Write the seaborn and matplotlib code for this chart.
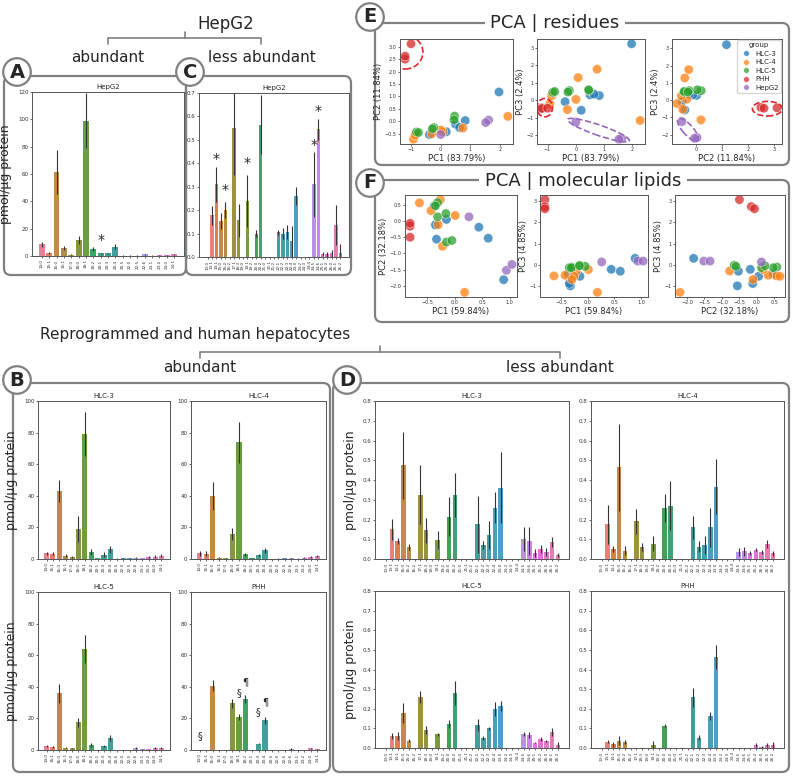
import numpy as np
import pandas as pd
import matplotlib
matplotlib.use("Agg")
import matplotlib.pyplot as plt
import seaborn as sns
from matplotlib.patches import FancyBboxPatch, Ellipse

W, H = 793, 777

# fatty acid residues
abundant = ["14:0", "15:1", "16:0", "16:1", "17:0", "18:0", "18:1", "18:2", "20:1", "20:3",
            "20:4", "20:5", "22:0", "22:5", "22:6", "23:1", "23:2", "24:0", "24:1"]
less_abundant = ["13:0", "13:1", "14:1", "15:0", "15:2", "16:2", "17:1", "18:3", "19:0", "19:1",
                 "19:2", "20:0", "20:2", "21:0", "21:1", "21:2", "22:1", "22:2", "22:3", "22:4",
                 "23:0", "24:2", "24:3", "24:4", "24:5", "24:6", "25:1", "25:2", "26:0", "26:1", "26:2"]

# abundant, pmol/ug protein (mean, error)
hepg2_ab = [8.5, 2.5, 61.5, 5.8, 0.8, 12, 99, 5, 2, 2, 6.8, 0.3, 0.3, 0.3, 1.2, 0.3, 0.4, 0.5, 1.2]
hepg2_ab_err = [2, 0.7, 16, 1.5, 0.3, 3, 20, 1.5, 0.5, 0.5, 2, 0.1, 0.1, 0.1, 0.5, 0.1, 0.1, 0.2, 0.5]
hlc3_ab = [3.6, 3.4, 43, 2.1, 1.5, 19, 79, 4.6, 0.6, 2.7, 6.1, 0.3, 0.4, 0.5, 0.8, 0.6, 1.2, 1.5, 2]
hlc3_ab_err = [1, 1, 7, 0.8, 0.7, 8, 14, 2, 0.2, 1.5, 2, 0.1, 0.1, 0.2, 0.3, 0.2, 0.5, 1, 1]
hlc4_ab = [3.6, 3.4, 40, 0.9, 0.5, 15.8, 74, 3, 0.4, 2.5, 5.4, 0.2, 0.3, 0.4, 0.4, 0.3, 0.8, 1.3, 2]
hlc4_ab_err = [1.5, 1.5, 9, 0.5, 0.2, 4, 13, 0.8, 0.1, 0.7, 1.5, 0.1, 0.1, 0.1, 0.2, 0.1, 0.3, 0.7, 0.7]
hlc5_ab = [2.5, 2.1, 35.8, 1.5, 1, 17.5, 64, 3.4, 0.2, 2.5, 7.8, 0.2, 0.2, 0.2, 1.2, 0.4, 0.6, 1.2, 1.3]
hlc5_ab_err = [0.8, 0.6, 6, 0.5, 0.4, 3, 9, 1.2, 0.1, 0.5, 2, 0.1, 0.1, 0.1, 0.5, 0.1, 0.2, 0.5, 0.6]
phh_ab = [0.2, 0.2, 40.8, 0, 0, 29.5, 21, 32, 0, 4, 18.7, 0, 0.1, 0.1, 0.8, 0.2, 0.2, 1, 0.4]
phh_ab_err = [0.1, 0.1, 3.5, 0, 0, 3, 2, 2.5, 0, 0.5, 2, 0, 0.05, 0.05, 0.5, 0.1, 0.1, 0.5, 0.2]

# less abundant
hepg2_less = [0, .178, .31, .153, .2, 0, .55, .157, 0, .238, 0, .1, .565, 0, 0, 0, .105, .1, .105, .067,
              .26, 0, 0, 0, .31, .545, .013, .011, .017, .135, .017]
hepg2_less_err = [0, .04, .075, .035, .035, 0, .2, .07, 0, .11, 0, .015, .125, 0, 0, 0, .01, .025, .03, .065,
                  .04, 0, 0, 0, .14, .045, .01, .01, .015, .085, .04]
hlc3_less = [0, .15, .09, .475, .06, 0, .325, .145, 0, .095, 0, .215, .325, 0, 0, 0, .175, .07, .12, .26,
             .36, 0, 0, 0, .1, .09, .03, .05, .035, .085, .02]
hlc3_less_err = [0, .055, .015, .17, .015, 0, .15, .065, 0, .045, 0, .1, .11, 0, 0, 0, .145, .02, .07, .08,
                 .18, 0, 0, 0, .06, .07, .02, .02, .02, .025, .01]
hlc4_less = [0, .175, .05, .465, .043, 0, .19, .06, 0, .078, 0, .257, .27, 0, 0, 0, .16, .063, .07, .16,
             .367, 0, 0, 0, .035, .038, .03, .048, .035, .076, .028]
hlc4_less_err = [0, .1, .015, .22, .025, 0, .065, .02, 0, .04, 0, .07, .125, 0, 0, 0, .06, .03, .045, .1,
                 .14, 0, 0, 0, .02, .025, .01, .01, .012, .02, .012]
hlc5_less = [0, .06, .06, .178, .037, 0, .26, .092, 0, .07, 0, .122, .28, 0, 0, 0, .117, .05, .1, .2,
             .212, 0, 0, 0, .071, .068, .028, .045, .035, .083, .015]
hlc5_less_err = [0, .015, .02, .05, .008, 0, .03, .02, 0, .008, 0, .02, .06, 0, 0, 0, .03, .01, .008, .035,
                 .025, 0, 0, 0, .012, .015, .005, .01, .005, .02, .015]
phh_less = [0, .032, .018, .037, .03, 0, 0, 0, 0, .013, 0, .113, 0, 0, 0, 0, .258, .052, 0, .162,
            .465, 0, 0, 0, 0, 0, 0, .015, .005, .017, .013]
phh_less_err = [0, .008, .015, .022, .01, 0, 0, 0, 0, .025, 0, .008, 0, 0, 0, 0, .05, .013, 0, .02,
                .06, 0, 0, 0, 0, 0, 0, .008, .003, .01, .02]

# PCA scores
groups = ["HLC-3", "HLC-4", "HLC-5", "PHH", "HepG2"]
res_group = ["HLC-3"] * 6 + ["HLC-4"] * 7 + ["HLC-5"] * 6 + ["PHH"] * 3 + ["HepG2"] * 3
res_pc1 = [1.97, 0.83, 0.5, 0.64, 0.19, -0.38,
           0.75, 0.08, 2.27, -0.92, -0.3, 0.0, -0.86,
           0.47, 0.45, -0.82, -0.75, -0.23, -0.28,
           -1.2, -1.2, -1.0,
           1.62, 1.52, 0.0]
res_pc2 = [1.18, 0.03, -0.11, -0.25, -0.42, -0.53,
           -0.27, -0.42, 0.2, -0.72, -0.5, -0.35, -0.55,
           0.21, 0.06, -0.43, -0.45, -0.25, -0.3,
           2.5, 2.62, 3.12,
           0.05, -0.05, -0.53]
res_pc3 = [3.22, 0.27, 0.31, 0.35, -0.57, -0.08,
           1.77, 1.29, -1.15, -0.2, -0.53, 0.05, 0.25,
           0.55, 0.6, 0.45, 0.5, 0.55, 0.47,
           -0.43, -0.47, -0.45,
           -2.18, -2.22, -1.25]

lip_group = ["HLC-3"] * 7 + ["HLC-4"] * 7 + ["HLC-5"] * 6 + ["PHH"] * 3 + ["HepG2"] * 3
lip_pc1 = [0.89, 0.44, 0.61, -0.33, -0.35, -0.15, -0.37,
           0.18, -0.22, -0.64, -0.43, -0.26, -0.3, 0.01,
           -0.15, -0.05, -0.31, -0.35, -0.31, -0.16,
           -0.81, -0.81, -0.81,
           0.26, 0.94, 1.04]
lip_pc2 = [-1.81, -0.19, -0.53, -0.56, -0.12, 0.05, 0.47,
           -2.2, -0.78, 0.56, 0.32, 0.66, -0.11, 0.17,
           -0.65, -0.6, 0.57, 0.47, 0.13, 0.23,
           -0.5, -0.16, -0.07,
           0.13, -1.52, -1.34]
lip_pc3 = [0.3, -0.22, -0.31, -1.0, -0.89, -0.55, -0.45,
           -1.31, -0.3, -0.53, -0.5, -0.55, -0.7, -0.23,
           -0.03, -0.08, -0.11, -0.14, -0.14, -0.05,
           3.08, 2.75, 2.65,
           0.13, 0.17, 0.17]

sns.set_style("ticks")
plt.rcParams.update({
    "axes.edgecolor": "#555555",
    "axes.linewidth": 0.7,
    "xtick.major.size": 1.5,
    "ytick.major.size": 1.5,
    "xtick.major.width": 0.5,
    "ytick.major.width": 0.5,
    "xtick.major.pad": 1,
    "ytick.major.pad": 1,
    "xtick.color": "#333333",
    "ytick.color": "#333333",
})

fig = plt.figure(figsize=(W / 100, H / 100), dpi=100)

# overlay for boxes, brackets and headings (pixel coordinates)
ov = fig.add_axes([0, 0, 1, 1])
ov.set_xlim(0, W)
ov.set_ylim(H, 0)
ov.axis("off")
ov.set_zorder(-1)


def px_axes(x0, y0, x1, y1):
    return fig.add_axes([x0 / W, 1 - y1 / H, (x1 - x0) / W, (y1 - y0) / H])


def box(x0, y0, x1, y1):
    ov.add_patch(FancyBboxPatch((x0, y0), x1 - x0, y1 - y0,
                                boxstyle="round,pad=0,rounding_size=7",
                                fc="none", ec="#808080", lw=1.6))


def letter(x, y, s):
    ov.text(x, y, s, ha="center", va="center", fontsize=14, fontweight="bold",
            bbox=dict(boxstyle="circle,pad=0.22", fc="white", ec="#808080", lw=1.6))


def heading(x, y, s, size=12, bg=False):
    kw = {}
    if bg:
        kw["bbox"] = dict(boxstyle="square,pad=0.3", fc="white", ec="none")
    ov.text(x, y, s, ha="center", va="center", fontsize=size, **kw)


def bracket(x0, x1, y, drop=6):
    ov.plot([x0, x0, x1, x1], [y + drop, y, y, y + drop], color="#808080", lw=1.2)
    xm = (x0 + x1) / 2
    ov.plot([xm, xm], [y, y - drop], color="#808080", lw=1.2)


def bar_panel(ax, cats, vals, errs, ymax, ystep, title, ylabel=None):
    df = pd.DataFrame({"lipid": cats, "value": vals})
    sns.barplot(data=df, x="lipid", y="value", hue="lipid", palette="husl",
                legend=False, errorbar=None, saturation=0.75, linewidth=0, ax=ax)
    ax.errorbar(np.arange(len(cats)), vals, yerr=errs, fmt="none",
                ecolor="#333333", elinewidth=0.8)
    ax.set_ylim(0, ymax)
    ax.set_yticks(np.round(np.arange(0, ymax + ystep / 2, ystep), 2))
    ax.tick_params(axis="x", labelrotation=90, labelsize=3)
    ax.tick_params(axis="y", labelsize=4)
    ax.set_xlabel("")
    ax.set_ylabel(ylabel if ylabel else "", fontsize=9)
    ax.set_title(title, fontsize=5, pad=2)


# ---- top-left: HepG2 -------------------------------------------------------
heading(226, 24, "HepG2", 12)
bracket(108, 261, 38)
heading(108, 58, "abundant", 11)
heading(262, 58, "less abundant", 11)
box(4, 76, 186, 275)
box(186, 76, 351, 275)
letter(17, 72, "A")
letter(190, 72, "C")

axA = px_axes(32, 92, 184, 256)
bar_panel(axA, abundant, hepg2_ab, hepg2_ab_err, 120, 20, "HepG2", "pmol/\u00b5g protein")
axA.text(8, 12, "*", ha="center", va="center", fontsize=10)

axC = px_axes(199, 93, 349, 257)
bar_panel(axC, less_abundant, hepg2_less, hepg2_less_err, 0.7, 0.1, "HepG2")
for i, yy in [(2, 0.42), (4, 0.285), (9, 0.4), (24, 0.48), (25, 0.625)]:
    axC.text(i, yy, "*", ha="center", va="center", fontsize=10)

# ---- PCA panels -------------------------------------------------------------
res = pd.DataFrame({"group": res_group, "PC1": res_pc1, "PC2": res_pc2, "PC3": res_pc3})
lip = pd.DataFrame({"group": lip_group, "PC1": lip_pc1, "PC2": lip_pc2, "PC3": lip_pc3})

box(375, 23, 789, 165)
heading(555, 23, "PCA | residues", 13, bg=True)
letter(370, 17, "E")
box(375, 180, 789, 322)
heading(583, 181, "PCA | molecular lipids", 13, bg=True)
letter(370, 183, "F")

res_lab = {"PC1": "PC1 (83.79%)", "PC2": "PC2 (11.84%)", "PC3": "PC3 (2.4%)"}
lip_lab = {"PC1": "PC1 (59.84%)", "PC2": "PC2 (32.18%)", "PC3": "PC3 (4.85%)"}


def pca_panel(ax, df, x, y, labels, legend=False):
    sns.scatterplot(data=df, x=x, y=y, hue="group", hue_order=groups, s=45, alpha=0.75,
                    edgecolor="white", linewidth=0.4, legend=legend, ax=ax)
    ax.set_xlabel(labels[x], fontsize=6, labelpad=1)
    ax.set_ylabel(labels[y], fontsize=6, labelpad=1)
    ax.tick_params(labelsize=3.5)


red = "#e3242b"
purple = "#9467bd"

e1 = px_axes(400, 39, 513, 144)
pca_panel(e1, res, "PC1", "PC2", res_lab)
e1.add_patch(Ellipse((-1.2, 2.78), 1.2, 1.35, fill=False, ec=red, ls="--", lw=1.2))
e2 = px_axes(537, 39, 645, 144)
pca_panel(e2, res, "PC1", "PC3", res_lab)
e2.add_patch(Ellipse((-1.1, -0.42), 0.55, 1.05, fill=False, ec=red, ls="--", lw=1.2))
e2.add_patch(Ellipse((0.8, -1.7), 2.5, 0.55, angle=-30, fill=False, ec=purple, ls="--", lw=1.2))
e3 = px_axes(672, 39, 782, 144)
pca_panel(e3, res, "PC2", "PC3", res_lab, legend=True)
e3.set_ylim(-2.55, 3.55)
e3.add_patch(Ellipse((2.75, -0.5), 1.15, 0.85, fill=False, ec=red, ls="--", lw=1.2))
e3.add_patch(Ellipse((-0.3, -1.72), 1.5, 0.45, angle=-62, fill=False, ec=purple, ls="--", lw=1.2))
leg = e3.legend(title="group", fontsize=5, title_fontsize=5, loc="upper right",
                markerscale=0.6, handletextpad=0.3, borderpad=0.3, labelspacing=0.35,
                borderaxespad=0.2, frameon=True)

f1 = px_axes(405, 195, 517, 297)
pca_panel(f1, lip, "PC1", "PC2", lip_lab)
f2 = px_axes(540, 195, 648, 297)
pca_panel(f2, lip, "PC1", "PC3", lip_lab)
f3 = px_axes(675, 195, 785, 297)
pca_panel(f3, lip, "PC2", "PC3", lip_lab)

# ---- bottom: reprogrammed and human hepatocytes -----------------------------
heading(195, 334, "Reprogrammed and human hepatocytes", 11)
bracket(200, 560, 352)
heading(200, 368, "abundant", 11)
heading(560, 368, "less abundant", 11)
box(13, 383, 330, 772)
box(333, 383, 789, 772)
letter(17, 380, "B")
letter(347, 380, "D")

ab_sets = [("HLC-3", hlc3_ab, hlc3_ab_err, (38, 401, 170, 559), True),
           ("HLC-4", hlc4_ab, hlc4_ab_err, (191, 401, 326, 559), False),
           ("HLC-5", hlc5_ab, hlc5_ab_err, (38, 592, 170, 750), True),
           ("PHH", phh_ab, phh_ab_err, (191, 592, 326, 750), False)]
for name, v, e, r, lab in ab_sets:
    ax = px_axes(*r)
    bar_panel(ax, abundant, v, e, 100, 20, name, "pmol/\u00b5g protein" if lab else None)
    if name == "PHH":
        for i, yy, s in [(0, 9, "\u00a7"), (6, 36, "\u00a7"), (7, 43, "\u00b6"),
                         (9, 24, "\u00a7"), (10, 30, "\u00b6")]:
            ax.text(i, yy, s, ha="center", va="center", fontsize=7)

less_sets = [("HLC-3", hlc3_less, hlc3_less_err, (375, 401, 569, 559), True),
             ("HLC-4", hlc4_less, hlc4_less_err, (591, 401, 784, 559), False),
             ("HLC-5", hlc5_less, hlc5_less_err, (375, 591, 569, 748), True),
             ("PHH", phh_less, phh_less_err, (591, 591, 784, 748), False)]
for name, v, e, r, lab in less_sets:
    ax = px_axes(*r)
    bar_panel(ax, less_abundant, v, e, 0.8, 0.1, name, "pmol/\u00b5g protein" if lab else None)

fig.savefig("out.png", dpi=100)
